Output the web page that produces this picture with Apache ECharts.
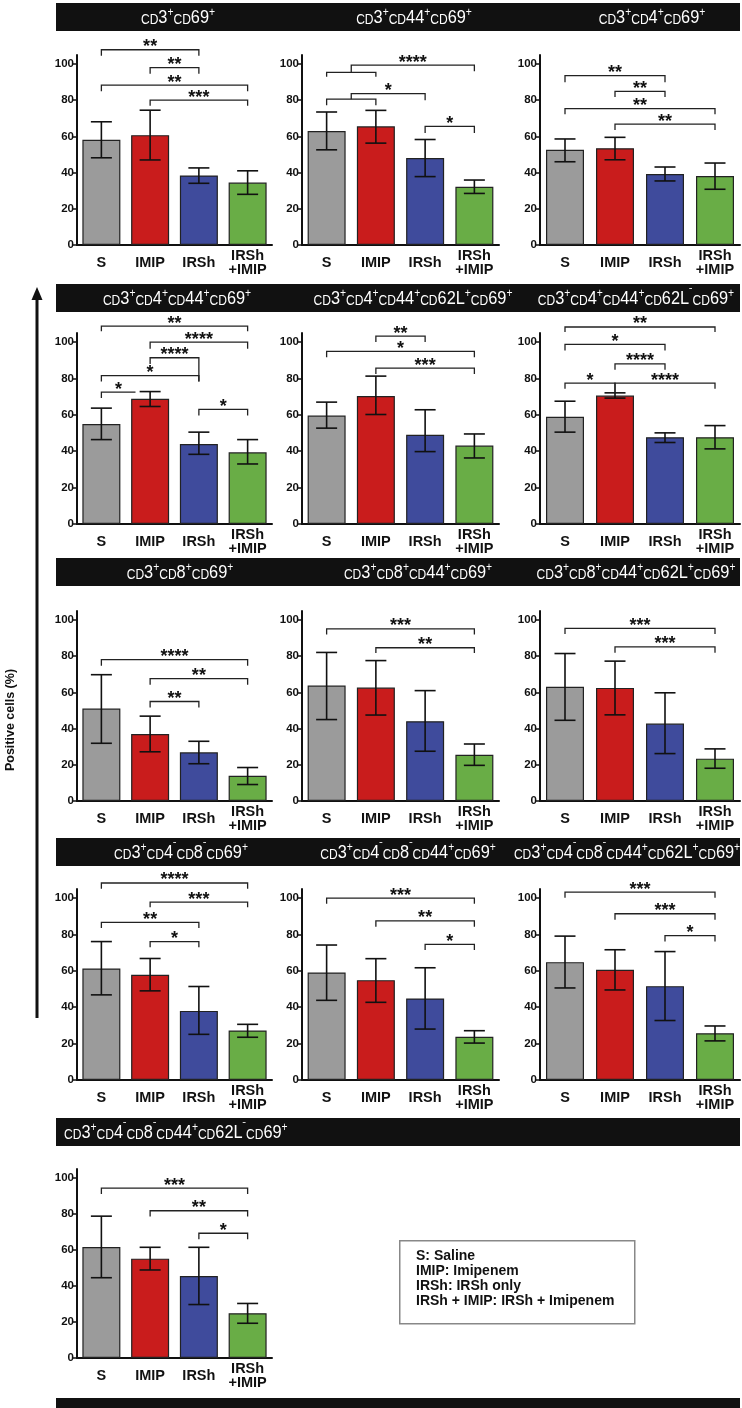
<!DOCTYPE html>
<html>
<head>
<meta charset="utf-8">
<title>CD69 positive cells</title>
<script src="https://cdn.jsdelivr.net/npm/echarts@6/dist/echarts.min.js"></script>
<style>
  html, body { margin: 0; padding: 0; background: #fff; }
  #main { width: 742px; height: 1408px; }
</style>
</head>
<body>
<div id="main"></div>
<script>
// groups on the x axis
var categories = ['S', 'IMIP', 'IRSh', 'IRSh\n+IMIP'];
var barColors = ['#9b9b9b', '#c91c1c', '#3f4b9c', '#69ad46'];
var yTicks = [0, 20, 40, 60, 80, 100];

// panel titles, + and - become superscripts
var titles = [
  'CD3+CD69+', 'CD3+CD44+CD69+', 'CD3+CD4+CD69+',
  'CD3+CD4+CD44+CD69+', 'CD3+CD4+CD44+CD62L+CD69+', 'CD3+CD4+CD44+CD62L-CD69+',
  'CD3+CD8+CD69+', 'CD3+CD8+CD44+CD69+', 'CD3+CD8+CD44+CD62L+CD69+',
  'CD3+CD4-CD8-CD69+', 'CD3+CD4-CD8-CD44+CD69+', 'CD3+CD4-CD8-CD44+CD62L+CD69+',
  'CD3+CD4-CD8-CD44+CD62L-CD69+'
];

// mean positive cells (%) : S, IMIP, IRSh, IRSh+IMIP
var means = [
  [58.1, 60.7, 38.4, 34.5],
  [63.0, 65.6, 48.1, 32.2],
  [52.6, 53.5, 39.2, 38.1],
  [55.0, 68.8, 44.0, 39.4],
  [59.6, 70.3, 49.0, 43.1],
  [59.0, 70.6, 47.7, 47.7],
  [51.1, 37.0, 26.9, 13.9],
  [63.8, 62.7, 44.1, 25.5],
  [63.1, 62.5, 42.8, 23.4],
  [61.3, 57.8, 38.0, 27.2],
  [59.1, 54.9, 44.8, 23.8],
  [64.8, 60.6, 51.6, 25.7],
  [61.7, 55.2, 45.5, 24.9]
];
// lower / upper end of the error bars
var errLow = [
  [48.2, 47.0, 34.1, 28.0],
  [52.6, 56.3, 37.8, 28.5],
  [46.0, 47.1, 35.4, 30.8],
  [46.4, 64.6, 38.3, 33.0],
  [52.7, 60.2, 39.8, 36.3],
  [50.5, 69.2, 44.8, 41.3],
  [31.9, 27.2, 20.6, 9.1],
  [45.0, 47.5, 27.5, 19.7],
  [44.6, 47.6, 26.2, 18.1],
  [46.8, 49.0, 25.1, 23.5],
  [43.8, 42.7, 28.0, 20.3],
  [50.6, 49.5, 32.7, 21.5],
  [44.6, 48.9, 29.7, 19.3]
];
var errHigh = [
  [68.1, 74.5, 42.6, 41.0],
  [73.5, 74.4, 58.3, 35.9],
  [58.6, 59.5, 43.1, 45.3],
  [63.7, 72.8, 50.5, 46.4],
  [67.0, 81.3, 62.8, 49.5],
  [67.5, 72.1, 50.1, 54.1],
  [69.8, 46.9, 33.0, 18.5],
  [82.1, 77.6, 61.0, 31.5],
  [81.5, 77.3, 59.8, 28.8],
  [76.1, 66.8, 51.4, 30.6],
  [74.2, 66.7, 61.7, 27.1],
  [79.1, 71.6, 70.6, 29.7],
  [78.8, 61.5, 61.5, 30.3]
];
// significance brackets: [from, to, level, left end, right end, stars]
var brackets = [
  [[0, 2, 107.9, 104.6, 104.6, '**'], [1, 2, 98, 94.6, 94.6, '**'], [0, 3, 88.4, 84.9, 84.9, '**'], [1, 3, 80.1, 77, 77, '***']],
  [[0, 1, 95.4, 93, 93, ''], [0.5, 3, 99.4, 95.4, 96, '****'], [0, 1, 80.6, 77.2, 77.2, ''], [0.5, 2, 83.7, 80.6, 80, '*'], [2, 3, 65.6, 61.9, 61.9, '*']],
  [[0, 2, 93.6, 90, 90, '**'], [1, 2, 84.9, 81.8, 81.8, '**'], [0, 3, 75.4, 72.3, 72.3, '**'], [1, 3, 66.8, 63.5, 63.5, '**']],
  [[0, 3, 108.8, 105.9, 105.9, '**'], [1, 3, 100, 96.3, 96.3, '****'], [1, 2, 91.4, 88, 78.3, '****'], [0, 2, 81.6, 78.3, 78.3, '*'], [0, 0.7, 72.5, 69.2, 72.5, '*'], [2, 3, 63, 59.6, 59.6, '*']],
  [[1, 2, 103.3, 100, 100, '**'], [0, 3, 94.9, 91.7, 91.7, '*'], [1, 3, 85.7, 82.4, 82.4, '***']],
  [[0, 3, 108.3, 105.5, 105.5, '**'], [0, 2, 98.7, 95.4, 95.4, '*'], [1, 2, 88, 84.8, 84.8, '****'], [0, 1, 77.4, 74.3, 72.1, '*'], [1, 3, 77.4, 72.1, 74.3, '****']],
  [[0, 3, 78.1, 74.8, 74.8, '****'], [1, 3, 67.6, 64.3, 64.3, '**'], [1, 2, 55, 51.7, 51.7, '**']],
  [[0, 3, 95.1, 92, 92, '***'], [1, 3, 84.7, 81.8, 81.8, '**']],
  [[0, 3, 95.4, 92.3, 92.3, '***'], [1, 3, 85.2, 81.9, 81.9, '***']],
  [[0, 3, 108.3, 105.1, 105.1, '****'], [1, 3, 97.8, 94.9, 94.9, '***'], [0, 2, 86.6, 83.5, 83.5, '**'], [1, 2, 76.1, 73, 73, '*']],
  [[0, 3, 100, 96.9, 96.9, '***'], [1, 3, 87.5, 84.3, 84.3, '**'], [2, 3, 74.6, 71.5, 71.5, '*']],
  [[0, 3, 103.3, 100.2, 100.2, '***'], [1, 3, 91.4, 88.1, 88.1, '***'], [2, 3, 79.4, 76.1, 76.1, '*']],
  [[0, 3, 94.4, 91.1, 91.1, '***'], [1, 3, 81.8, 78.6, 78.6, '**'], [2, 3, 69.3, 66, 66, '*']]
];
var legendLines = ['S: Saline', 'IMIP: Imipenem', 'IRSh: IRSh only', 'IRSh + IMIP: IRSh + Imipenem'];

// layout of the panel grid
var colLeft = [77, 302, 540];
var colWidth = [195, 197, 200];
var rowTop = [55, 333, 611, 889, 1169];
var rowHeight = [190, 191, 190, 191, 189];
var bandTop = [3, 284, 558, 838, 1118];
// centre of each title inside its band (last band is left aligned)
var titleX = [[178, 414, 652], [177, 413, 636], [180, 418, 636], [181, 408, 627], [64]];

var FONT = '"Liberation Sans", Arial, sans-serif';

var chart = echarts.init(document.getElementById('main'));

// turn "CD3+CD4-" into rich text with small CD and raised +/-
function richTitle(t) {
  return t.replace(/(CD)|([0-9L]+)|([+-])/g, function (m, cd, num, sign) {
    if (cd) return '{c|CD}';
    if (num) return '{n|' + num + '}';
    return '{s|' + (sign === '+' ? '+' : '\u02C9') + '}';
  });
}

function errRender(params, api) {
  var x = api.value(0);
  var lo = api.coord([x, api.value(1)]);
  var hi = api.coord([x, api.value(2)]);
  var hw = 10.5;
  var st = { stroke: '#111', lineWidth: 1.6 };
  return {
    type: 'group',
    children: [
      { type: 'line', shape: { x1: lo[0], y1: lo[1], x2: hi[0], y2: hi[1] }, style: st },
      { type: 'line', shape: { x1: lo[0] - hw, y1: lo[1], x2: lo[0] + hw, y2: lo[1] }, style: st },
      { type: 'line', shape: { x1: hi[0] - hw, y1: hi[1], x2: hi[0] + hw, y2: hi[1] }, style: st }
    ]
  };
}

function bracketRender(list) {
  return function (params, api) {
    var b = list[params.dataIndex];
    var c0 = api.coord([0, b[2]]);
    var c1 = api.coord([1, b[2]]);
    var step = c1[0] - c0[0];
    var xa = c0[0] + step * b[0];
    var xb = c0[0] + step * b[1];
    var yl = c0[1];
    var ya = api.coord([0, b[3]])[1];
    var yb = api.coord([0, b[4]])[1];
    var kids = [{
      type: 'polyline',
      shape: { points: [[xa, ya], [xa, yl], [xb, yl], [xb, yb]] },
      style: { stroke: '#222', fill: null, lineWidth: 1.3 }
    }];
    if (b[5]) {
      kids.push({
        type: 'text',
        style: {
          text: b[5], x: (xa + xb) / 2, y: yl - 2.5,
          align: 'center', verticalAlign: 'middle',
          font: 'bold 18px ' + FONT, fill: '#111'
        }
      });
    }
    return { type: 'group', children: kids };
  };
}

var grids = [], xAxes = [], yAxes = [], series = [], graphics = [];

for (var p = 0; p < means.length; p++) {
  var row = Math.floor(p / 3), col = p % 3;
  grids.push({
    left: colLeft[col], width: colWidth[col],
    top: rowTop[row], height: rowHeight[row],
    containLabel: false, outerBoundsMode: 'none'
  });
  xAxes.push({
    type: 'category', gridIndex: p, data: categories,
    axisLine: { lineStyle: { color: '#111', width: 2 } },
    axisTick: { show: false },
    axisLabel: {
      interval: 0, margin: 18, color: '#111', fontFamily: FONT,
      fontWeight: 'bold', fontSize: 14.5, lineHeight: 14, verticalAlign: 'middle'
    }
  });
  yAxes.push({
    type: 'value', gridIndex: p, min: 0, max: 105,
    splitLine: { show: false },
    axisLine: { show: true, lineStyle: { color: '#111', width: 2 } },
    axisTick: { show: true, length: 4, customValues: yTicks, lineStyle: { color: '#111', width: 1.5 } },
    axisLabel: {
      customValues: yTicks, margin: 3, color: '#111', fontFamily: FONT,
      fontWeight: 'bold', fontSize: 11.5
    }
  });
  series.push({
    type: 'bar', xAxisIndex: p, yAxisIndex: p, barWidth: 38,
    data: means[p].map(function (v, i) {
      return { value: v, itemStyle: { color: barColors[i] } };
    }),
    itemStyle: { borderColor: '#222', borderWidth: 1.2 }
  });
  series.push({
    type: 'custom', xAxisIndex: p, yAxisIndex: p, z: 5,
    renderItem: errRender,
    data: means[p].map(function (v, i) { return [i, errLow[p][i], errHigh[p][i]]; })
  });
  series.push({
    type: 'custom', xAxisIndex: p, yAxisIndex: p, z: 6,
    renderItem: bracketRender(brackets[p]),
    data: brackets[p].map(function (b) { return [Math.round(b[0]), b[2]]; })
  });
}

var titleRich = {
  c: { fontSize: 14, fontFamily: FONT, color: '#fff', verticalAlign: 'bottom', lineHeight: 20 },
  n: { fontSize: 19, fontFamily: FONT, color: '#fff', verticalAlign: 'bottom', lineHeight: 20 },
  s: { fontSize: 12, fontFamily: FONT, color: '#fff', verticalAlign: 'top', lineHeight: 20 }
};

// black title bands
for (var r = 0; r < bandTop.length; r++) {
  graphics.push({
    type: 'rect', left: 56, top: bandTop[r],
    shape: { width: 684, height: 28 }, style: { fill: '#111' }
  });
}
graphics.push({ type: 'rect', left: 56, top: 1398, shape: { width: 684, height: 10 }, style: { fill: '#111' } });

titles.forEach(function (t, i) {
  var row = Math.floor(i / 3), col = i % 3;
  var lastRow = row === 4;
  graphics.push({
    type: 'text', z: 10,
    x: titleX[row][col], y: bandTop[row] + 14, scaleX: 0.86,
    style: {
      text: richTitle(t), rich: titleRich, fill: '#fff',
      align: lastRow ? 'left' : 'center', verticalAlign: 'middle'
    }
  });
});

// shared y axis title with arrow
graphics.push({
  type: 'line', shape: { x1: 37, y1: 298, x2: 37, y2: 1018 },
  style: { stroke: '#111', lineWidth: 3 }
});
graphics.push({
  type: 'polygon', shape: { points: [[31.5, 300], [42.5, 300], [37, 287]] },
  style: { fill: '#111' }
});
graphics.push({
  type: 'text', x: 11, y: 720, rotation: Math.PI / 2,
  style: {
    text: 'Positive cells (%)', font: 'bold 12.5px ' + FONT, fill: '#111',
    align: 'center', verticalAlign: 'middle'
  }
});

// legend box
graphics.push({
  type: 'rect', left: 399, top: 1240,
  shape: { width: 235, height: 83 },
  style: { fill: '#fff', stroke: '#888', lineWidth: 1.5 }
});
graphics.push({
  type: 'text', x: 416, y: 1248.5,
  style: {
    text: legendLines.join('\n'), font: 'bold 14px ' + FONT,
    lineHeight: 15, fill: '#111', align: 'left', verticalAlign: 'top'
  }
});

chart.setOption({
  animation: false,
  backgroundColor: '#fff',
  grid: grids,
  xAxis: xAxes,
  yAxis: yAxes,
  series: series,
  graphic: graphics
});
</script>
</body>
</html>
